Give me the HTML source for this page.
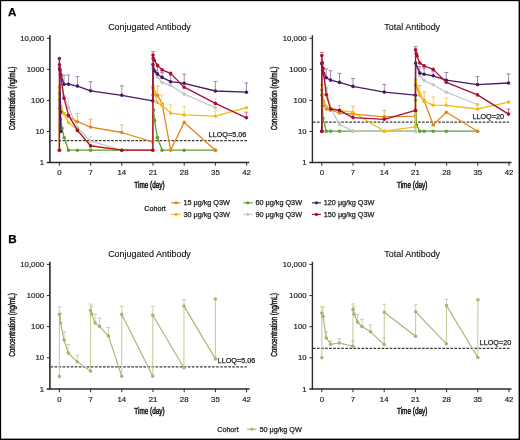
<!DOCTYPE html>
<html><head><meta charset="utf-8"><style>
html,body{margin:0;padding:0;background:#fff;}
#c{position:relative;width:520px;height:440px;overflow:hidden;background:#fff;}
svg{position:absolute;left:0;top:0;font-family:"Liberation Sans", sans-serif;will-change:transform;}
</style></head><body><div id="c">
<svg width="520" height="440" viewBox="0 0 520 440">
<rect x="0" y="0" width="520" height="440" fill="#fff"/>
<line x1="49.90" y1="35.20" x2="49.90" y2="163.10" stroke="#2a2a2a" stroke-width="1.6" />
<line x1="46.70" y1="162.50" x2="249.20" y2="162.50" stroke="#2a2a2a" stroke-width="1.3" />
<text x="44.10" y="165.00" font-size="7.8" text-anchor="end" fill="#222" stroke="#222" stroke-width="0.18" font-weight="normal" >1</text>
<line x1="46.90" y1="131.45" x2="49.90" y2="131.45" stroke="#2a2a2a" stroke-width="1.0" />
<text x="44.10" y="133.95" font-size="7.8" text-anchor="end" fill="#222" stroke="#222" stroke-width="0.18" font-weight="normal" >10</text>
<line x1="46.90" y1="100.40" x2="49.90" y2="100.40" stroke="#2a2a2a" stroke-width="1.0" />
<text x="44.10" y="102.90" font-size="7.8" text-anchor="end" fill="#222" stroke="#222" stroke-width="0.18" font-weight="normal" >100</text>
<line x1="46.90" y1="69.35" x2="49.90" y2="69.35" stroke="#2a2a2a" stroke-width="1.0" />
<text x="44.10" y="71.85" font-size="7.8" text-anchor="end" fill="#222" stroke="#222" stroke-width="0.18" font-weight="normal" >1000</text>
<line x1="46.90" y1="38.30" x2="49.90" y2="38.30" stroke="#2a2a2a" stroke-width="1.0" />
<text x="44.10" y="40.80" font-size="7.8" text-anchor="end" fill="#222" stroke="#222" stroke-width="0.18" font-weight="normal" >10,000</text>
<line x1="59.40" y1="162.50" x2="59.40" y2="165.70" stroke="#2a2a2a" stroke-width="1.0" />
<text x="59.40" y="175.20" font-size="7.8" text-anchor="middle" fill="#222" stroke="#222" stroke-width="0.18" font-weight="normal" >0</text>
<line x1="90.60" y1="162.50" x2="90.60" y2="165.70" stroke="#2a2a2a" stroke-width="1.0" />
<text x="90.60" y="175.20" font-size="7.8" text-anchor="middle" fill="#222" stroke="#222" stroke-width="0.18" font-weight="normal" >7</text>
<line x1="121.80" y1="162.50" x2="121.80" y2="165.70" stroke="#2a2a2a" stroke-width="1.0" />
<text x="121.80" y="175.20" font-size="7.8" text-anchor="middle" fill="#222" stroke="#222" stroke-width="0.18" font-weight="normal" >14</text>
<line x1="153.00" y1="162.50" x2="153.00" y2="165.70" stroke="#2a2a2a" stroke-width="1.0" />
<text x="153.00" y="175.20" font-size="7.8" text-anchor="middle" fill="#222" stroke="#222" stroke-width="0.18" font-weight="normal" >21</text>
<line x1="184.20" y1="162.50" x2="184.20" y2="165.70" stroke="#2a2a2a" stroke-width="1.0" />
<text x="184.20" y="175.20" font-size="7.8" text-anchor="middle" fill="#222" stroke="#222" stroke-width="0.18" font-weight="normal" >28</text>
<line x1="215.40" y1="162.50" x2="215.40" y2="165.70" stroke="#2a2a2a" stroke-width="1.0" />
<text x="215.40" y="175.20" font-size="7.8" text-anchor="middle" fill="#222" stroke="#222" stroke-width="0.18" font-weight="normal" >35</text>
<line x1="246.59" y1="162.50" x2="246.59" y2="165.70" stroke="#2a2a2a" stroke-width="1.0" />
<text x="246.59" y="175.20" font-size="7.8" text-anchor="middle" fill="#222" stroke="#222" stroke-width="0.18" font-weight="normal" >42</text>
<text transform="translate(149.50,30.20) scale(0.965,1)" font-size="9.3" text-anchor="middle" fill="#111" stroke="#111" stroke-width="0.12" font-weight="normal" >Conjugated Antibody</text>
<text transform="translate(149.50,187.70) scale(0.72,1)" font-size="8.9" text-anchor="middle" fill="#222" stroke="#222" stroke-width="0.55">Time (day)</text>
<text transform="translate(14.70,98.50) rotate(-90) scale(0.72,1)" font-size="8.9" text-anchor="middle" fill="#222" stroke="#222" stroke-width="0.5">Concentration (ng/mL)</text>
<line x1="312.40" y1="35.20" x2="312.40" y2="163.10" stroke="#2a2a2a" stroke-width="1.4" />
<line x1="309.20" y1="162.50" x2="511.50" y2="162.50" stroke="#2a2a2a" stroke-width="1.3" />
<text x="306.60" y="165.00" font-size="7.8" text-anchor="end" fill="#222" stroke="#222" stroke-width="0.18" font-weight="normal" >1</text>
<line x1="309.40" y1="131.45" x2="312.40" y2="131.45" stroke="#2a2a2a" stroke-width="1.0" />
<text x="306.60" y="133.95" font-size="7.8" text-anchor="end" fill="#222" stroke="#222" stroke-width="0.18" font-weight="normal" >10</text>
<line x1="309.40" y1="100.40" x2="312.40" y2="100.40" stroke="#2a2a2a" stroke-width="1.0" />
<text x="306.60" y="102.90" font-size="7.8" text-anchor="end" fill="#222" stroke="#222" stroke-width="0.18" font-weight="normal" >100</text>
<line x1="309.40" y1="69.35" x2="312.40" y2="69.35" stroke="#2a2a2a" stroke-width="1.0" />
<text x="306.60" y="71.85" font-size="7.8" text-anchor="end" fill="#222" stroke="#222" stroke-width="0.18" font-weight="normal" >1000</text>
<line x1="309.40" y1="38.30" x2="312.40" y2="38.30" stroke="#2a2a2a" stroke-width="1.0" />
<text x="306.60" y="40.80" font-size="7.8" text-anchor="end" fill="#222" stroke="#222" stroke-width="0.18" font-weight="normal" >10,000</text>
<line x1="321.80" y1="162.50" x2="321.80" y2="165.70" stroke="#2a2a2a" stroke-width="1.0" />
<text x="321.80" y="175.20" font-size="7.8" text-anchor="middle" fill="#222" stroke="#222" stroke-width="0.18" font-weight="normal" >0</text>
<line x1="353.00" y1="162.50" x2="353.00" y2="165.70" stroke="#2a2a2a" stroke-width="1.0" />
<text x="353.00" y="175.20" font-size="7.8" text-anchor="middle" fill="#222" stroke="#222" stroke-width="0.18" font-weight="normal" >7</text>
<line x1="384.20" y1="162.50" x2="384.20" y2="165.70" stroke="#2a2a2a" stroke-width="1.0" />
<text x="384.20" y="175.20" font-size="7.8" text-anchor="middle" fill="#222" stroke="#222" stroke-width="0.18" font-weight="normal" >14</text>
<line x1="415.40" y1="162.50" x2="415.40" y2="165.70" stroke="#2a2a2a" stroke-width="1.0" />
<text x="415.40" y="175.20" font-size="7.8" text-anchor="middle" fill="#222" stroke="#222" stroke-width="0.18" font-weight="normal" >21</text>
<line x1="446.60" y1="162.50" x2="446.60" y2="165.70" stroke="#2a2a2a" stroke-width="1.0" />
<text x="446.60" y="175.20" font-size="7.8" text-anchor="middle" fill="#222" stroke="#222" stroke-width="0.18" font-weight="normal" >28</text>
<line x1="477.80" y1="162.50" x2="477.80" y2="165.70" stroke="#2a2a2a" stroke-width="1.0" />
<text x="477.80" y="175.20" font-size="7.8" text-anchor="middle" fill="#222" stroke="#222" stroke-width="0.18" font-weight="normal" >35</text>
<line x1="508.99" y1="162.50" x2="508.99" y2="165.70" stroke="#2a2a2a" stroke-width="1.0" />
<text x="508.99" y="175.20" font-size="7.8" text-anchor="middle" fill="#222" stroke="#222" stroke-width="0.18" font-weight="normal" >42</text>
<text transform="translate(412.20,30.20) scale(0.965,1)" font-size="9.3" text-anchor="middle" fill="#111" stroke="#111" stroke-width="0.12" font-weight="normal" >Total Antibody</text>
<text transform="translate(412.20,187.70) scale(0.72,1)" font-size="8.9" text-anchor="middle" fill="#222" stroke="#222" stroke-width="0.55">Time (day)</text>
<text transform="translate(277.20,98.50) rotate(-90) scale(0.72,1)" font-size="8.9" text-anchor="middle" fill="#222" stroke="#222" stroke-width="0.5">Concentration (ng/mL)</text>
<line x1="49.90" y1="261.80" x2="49.90" y2="389.60" stroke="#2a2a2a" stroke-width="1.6" />
<line x1="46.70" y1="389.00" x2="249.50" y2="389.00" stroke="#2a2a2a" stroke-width="1.3" />
<text x="44.10" y="391.50" font-size="7.8" text-anchor="end" fill="#222" stroke="#222" stroke-width="0.18" font-weight="normal" >1</text>
<line x1="46.90" y1="357.85" x2="49.90" y2="357.85" stroke="#2a2a2a" stroke-width="1.0" />
<text x="44.10" y="360.35" font-size="7.8" text-anchor="end" fill="#222" stroke="#222" stroke-width="0.18" font-weight="normal" >10</text>
<line x1="46.90" y1="326.70" x2="49.90" y2="326.70" stroke="#2a2a2a" stroke-width="1.0" />
<text x="44.10" y="329.20" font-size="7.8" text-anchor="end" fill="#222" stroke="#222" stroke-width="0.18" font-weight="normal" >100</text>
<line x1="46.90" y1="295.55" x2="49.90" y2="295.55" stroke="#2a2a2a" stroke-width="1.0" />
<text x="44.10" y="298.05" font-size="7.8" text-anchor="end" fill="#222" stroke="#222" stroke-width="0.18" font-weight="normal" >1000</text>
<line x1="46.90" y1="264.40" x2="49.90" y2="264.40" stroke="#2a2a2a" stroke-width="1.0" />
<text x="44.10" y="266.90" font-size="7.8" text-anchor="end" fill="#222" stroke="#222" stroke-width="0.18" font-weight="normal" >10,000</text>
<line x1="59.40" y1="389.00" x2="59.40" y2="392.20" stroke="#2a2a2a" stroke-width="1.0" />
<text x="59.40" y="401.70" font-size="7.8" text-anchor="middle" fill="#222" stroke="#222" stroke-width="0.18" font-weight="normal" >0</text>
<line x1="90.60" y1="389.00" x2="90.60" y2="392.20" stroke="#2a2a2a" stroke-width="1.0" />
<text x="90.60" y="401.70" font-size="7.8" text-anchor="middle" fill="#222" stroke="#222" stroke-width="0.18" font-weight="normal" >7</text>
<line x1="121.80" y1="389.00" x2="121.80" y2="392.20" stroke="#2a2a2a" stroke-width="1.0" />
<text x="121.80" y="401.70" font-size="7.8" text-anchor="middle" fill="#222" stroke="#222" stroke-width="0.18" font-weight="normal" >14</text>
<line x1="153.00" y1="389.00" x2="153.00" y2="392.20" stroke="#2a2a2a" stroke-width="1.0" />
<text x="153.00" y="401.70" font-size="7.8" text-anchor="middle" fill="#222" stroke="#222" stroke-width="0.18" font-weight="normal" >21</text>
<line x1="184.20" y1="389.00" x2="184.20" y2="392.20" stroke="#2a2a2a" stroke-width="1.0" />
<text x="184.20" y="401.70" font-size="7.8" text-anchor="middle" fill="#222" stroke="#222" stroke-width="0.18" font-weight="normal" >28</text>
<line x1="215.40" y1="389.00" x2="215.40" y2="392.20" stroke="#2a2a2a" stroke-width="1.0" />
<text x="215.40" y="401.70" font-size="7.8" text-anchor="middle" fill="#222" stroke="#222" stroke-width="0.18" font-weight="normal" >35</text>
<line x1="246.59" y1="389.00" x2="246.59" y2="392.20" stroke="#2a2a2a" stroke-width="1.0" />
<text x="246.59" y="401.70" font-size="7.8" text-anchor="middle" fill="#222" stroke="#222" stroke-width="0.18" font-weight="normal" >42</text>
<text transform="translate(149.50,256.70) scale(0.965,1)" font-size="9.3" text-anchor="middle" fill="#111" stroke="#111" stroke-width="0.12" font-weight="normal" >Conjugated Antibody</text>
<text transform="translate(149.50,414.20) scale(0.72,1)" font-size="8.9" text-anchor="middle" fill="#222" stroke="#222" stroke-width="0.55">Time (day)</text>
<text transform="translate(14.70,325.00) rotate(-90) scale(0.72,1)" font-size="8.9" text-anchor="middle" fill="#222" stroke="#222" stroke-width="0.5">Concentration (ng/mL)</text>
<line x1="312.40" y1="261.80" x2="312.40" y2="389.60" stroke="#2a2a2a" stroke-width="1.4" />
<line x1="309.20" y1="389.00" x2="511.50" y2="389.00" stroke="#2a2a2a" stroke-width="1.3" />
<text x="306.60" y="391.50" font-size="7.8" text-anchor="end" fill="#222" stroke="#222" stroke-width="0.18" font-weight="normal" >1</text>
<line x1="309.40" y1="357.85" x2="312.40" y2="357.85" stroke="#2a2a2a" stroke-width="1.0" />
<text x="306.60" y="360.35" font-size="7.8" text-anchor="end" fill="#222" stroke="#222" stroke-width="0.18" font-weight="normal" >10</text>
<line x1="309.40" y1="326.70" x2="312.40" y2="326.70" stroke="#2a2a2a" stroke-width="1.0" />
<text x="306.60" y="329.20" font-size="7.8" text-anchor="end" fill="#222" stroke="#222" stroke-width="0.18" font-weight="normal" >100</text>
<line x1="309.40" y1="295.55" x2="312.40" y2="295.55" stroke="#2a2a2a" stroke-width="1.0" />
<text x="306.60" y="298.05" font-size="7.8" text-anchor="end" fill="#222" stroke="#222" stroke-width="0.18" font-weight="normal" >1000</text>
<line x1="309.40" y1="264.40" x2="312.40" y2="264.40" stroke="#2a2a2a" stroke-width="1.0" />
<text x="306.60" y="266.90" font-size="7.8" text-anchor="end" fill="#222" stroke="#222" stroke-width="0.18" font-weight="normal" >10,000</text>
<line x1="321.80" y1="389.00" x2="321.80" y2="392.20" stroke="#2a2a2a" stroke-width="1.0" />
<text x="321.80" y="401.70" font-size="7.8" text-anchor="middle" fill="#222" stroke="#222" stroke-width="0.18" font-weight="normal" >0</text>
<line x1="353.00" y1="389.00" x2="353.00" y2="392.20" stroke="#2a2a2a" stroke-width="1.0" />
<text x="353.00" y="401.70" font-size="7.8" text-anchor="middle" fill="#222" stroke="#222" stroke-width="0.18" font-weight="normal" >7</text>
<line x1="384.20" y1="389.00" x2="384.20" y2="392.20" stroke="#2a2a2a" stroke-width="1.0" />
<text x="384.20" y="401.70" font-size="7.8" text-anchor="middle" fill="#222" stroke="#222" stroke-width="0.18" font-weight="normal" >14</text>
<line x1="415.40" y1="389.00" x2="415.40" y2="392.20" stroke="#2a2a2a" stroke-width="1.0" />
<text x="415.40" y="401.70" font-size="7.8" text-anchor="middle" fill="#222" stroke="#222" stroke-width="0.18" font-weight="normal" >21</text>
<line x1="446.60" y1="389.00" x2="446.60" y2="392.20" stroke="#2a2a2a" stroke-width="1.0" />
<text x="446.60" y="401.70" font-size="7.8" text-anchor="middle" fill="#222" stroke="#222" stroke-width="0.18" font-weight="normal" >28</text>
<line x1="477.80" y1="389.00" x2="477.80" y2="392.20" stroke="#2a2a2a" stroke-width="1.0" />
<text x="477.80" y="401.70" font-size="7.8" text-anchor="middle" fill="#222" stroke="#222" stroke-width="0.18" font-weight="normal" >35</text>
<line x1="508.99" y1="389.00" x2="508.99" y2="392.20" stroke="#2a2a2a" stroke-width="1.0" />
<text x="508.99" y="401.70" font-size="7.8" text-anchor="middle" fill="#222" stroke="#222" stroke-width="0.18" font-weight="normal" >42</text>
<text transform="translate(412.20,256.70) scale(0.965,1)" font-size="9.3" text-anchor="middle" fill="#111" stroke="#111" stroke-width="0.12" font-weight="normal" >Total Antibody</text>
<text transform="translate(412.20,414.20) scale(0.72,1)" font-size="8.9" text-anchor="middle" fill="#222" stroke="#222" stroke-width="0.55">Time (day)</text>
<text transform="translate(277.20,325.00) rotate(-90) scale(0.72,1)" font-size="8.9" text-anchor="middle" fill="#222" stroke="#222" stroke-width="0.5">Concentration (ng/mL)</text>
<line x1="50.50" y1="140.60" x2="247.20" y2="140.60" stroke="#383838" stroke-width="1.25" stroke-dasharray="2.6 1.44"/>
<line x1="313.00" y1="122.00" x2="509.00" y2="122.00" stroke="#383838" stroke-width="1.25" stroke-dasharray="2.6 1.44"/>
<line x1="50.50" y1="366.90" x2="246.60" y2="366.90" stroke="#383838" stroke-width="1.25" stroke-dasharray="2.6 1.44"/>
<line x1="313.00" y1="348.40" x2="510.00" y2="348.40" stroke="#383838" stroke-width="1.25" stroke-dasharray="2.6 1.44"/>
<text x="208.60" y="137.30" font-size="7.25" text-anchor="start" fill="#222" stroke="#222" stroke-width="0.25" font-weight="normal" >LLOQ=5.06</text>
<text x="472.40" y="119.30" font-size="7.25" text-anchor="start" fill="#222" stroke="#222" stroke-width="0.25" font-weight="normal" >LLOQ=20</text>
<text x="217.60" y="363.30" font-size="7.25" text-anchor="start" fill="#222" stroke="#222" stroke-width="0.25" font-weight="normal" >LLOQ=5.06</text>
<text x="479.60" y="344.90" font-size="7.25" text-anchor="start" fill="#222" stroke="#222" stroke-width="0.25" font-weight="normal" >LLOQ=20</text>
<text x="8.00" y="16.40" font-size="11.6" text-anchor="start" fill="#000" stroke="#000" stroke-width="0.25" font-weight="bold" >A</text>
<text x="8.20" y="242.70" font-size="11.6" text-anchor="start" fill="#000" stroke="#000" stroke-width="0.25" font-weight="bold" >B</text>
<polyline points="59.40,150.20 59.40,93.00 59.60,108.30 60.50,119.40 62.00,128.20 64.20,137.80 68.50,150.20 77.40,150.20 90.60,150.20 121.80,150.20 152.80,150.20 153.00,95.00 153.50,110.10 154.50,120.40 157.40,137.60 162.10,150.20 184.20,150.20 215.40,150.20" fill="none" stroke="#5DA232" stroke-width="1.3" stroke-linejoin="round"/>
<circle cx="59.40" cy="150.20" r="1.8" fill="#5DA232"/>
<circle cx="59.40" cy="93.00" r="1.8" fill="#5DA232"/>
<circle cx="59.60" cy="108.30" r="1.8" fill="#5DA232"/>
<circle cx="60.50" cy="119.40" r="1.8" fill="#5DA232"/>
<circle cx="62.00" cy="128.20" r="1.8" fill="#5DA232"/>
<circle cx="64.20" cy="137.80" r="1.8" fill="#5DA232"/>
<circle cx="68.50" cy="150.20" r="1.8" fill="#5DA232"/>
<circle cx="77.40" cy="150.20" r="1.8" fill="#5DA232"/>
<circle cx="90.60" cy="150.20" r="1.8" fill="#5DA232"/>
<circle cx="121.80" cy="150.20" r="1.8" fill="#5DA232"/>
<circle cx="152.80" cy="150.20" r="1.8" fill="#5DA232"/>
<circle cx="153.00" cy="95.00" r="1.8" fill="#5DA232"/>
<circle cx="153.50" cy="110.10" r="1.8" fill="#5DA232"/>
<circle cx="154.50" cy="120.40" r="1.8" fill="#5DA232"/>
<circle cx="157.40" cy="137.60" r="1.8" fill="#5DA232"/>
<circle cx="162.10" cy="150.20" r="1.8" fill="#5DA232"/>
<circle cx="184.20" cy="150.20" r="1.8" fill="#5DA232"/>
<circle cx="215.40" cy="150.20" r="1.8" fill="#5DA232"/>
<line x1="68.50" y1="107.50" x2="68.50" y2="98.70" stroke="#DADADC" stroke-width="0.9" />
<line x1="66.60" y1="98.70" x2="70.40" y2="98.70" stroke="#DADADC" stroke-width="1.0" />
<line x1="90.60" y1="141.20" x2="90.60" y2="136.80" stroke="#DADADC" stroke-width="0.9" />
<line x1="88.70" y1="136.80" x2="92.50" y2="136.80" stroke="#DADADC" stroke-width="1.0" />
<line x1="215.40" y1="107.70" x2="215.40" y2="98.90" stroke="#DADADC" stroke-width="0.9" />
<line x1="213.50" y1="98.90" x2="217.30" y2="98.90" stroke="#DADADC" stroke-width="1.0" />
<polyline points="59.40,150.20 59.40,66.00 60.00,75.00 61.00,85.00 64.00,96.00 68.50,107.50 77.40,127.50 90.60,141.20 121.80,150.20 152.80,150.20 153.00,68.00 155.00,72.00 157.40,76.90 162.10,82.60 170.60,85.30 184.20,94.10 215.40,107.70" fill="none" stroke="#C6C6CA" stroke-width="1.3" stroke-linejoin="round"/>
<circle cx="59.40" cy="150.20" r="1.8" fill="#C6C6CA"/>
<circle cx="59.40" cy="66.00" r="1.8" fill="#C6C6CA"/>
<circle cx="60.00" cy="75.00" r="1.8" fill="#C6C6CA"/>
<circle cx="61.00" cy="85.00" r="1.8" fill="#C6C6CA"/>
<circle cx="64.00" cy="96.00" r="1.8" fill="#C6C6CA"/>
<circle cx="68.50" cy="107.50" r="1.8" fill="#C6C6CA"/>
<circle cx="77.40" cy="127.50" r="1.8" fill="#C6C6CA"/>
<circle cx="90.60" cy="141.20" r="1.8" fill="#C6C6CA"/>
<circle cx="121.80" cy="150.20" r="1.8" fill="#C6C6CA"/>
<circle cx="152.80" cy="150.20" r="1.8" fill="#C6C6CA"/>
<circle cx="153.00" cy="68.00" r="1.8" fill="#C6C6CA"/>
<circle cx="155.00" cy="72.00" r="1.8" fill="#C6C6CA"/>
<circle cx="157.40" cy="76.90" r="1.8" fill="#C6C6CA"/>
<circle cx="162.10" cy="82.60" r="1.8" fill="#C6C6CA"/>
<circle cx="170.60" cy="85.30" r="1.8" fill="#C6C6CA"/>
<circle cx="184.20" cy="94.10" r="1.8" fill="#C6C6CA"/>
<circle cx="215.40" cy="107.70" r="1.8" fill="#C6C6CA"/>
<line x1="77.40" y1="121.70" x2="77.40" y2="113.60" stroke="#EDB06A" stroke-width="0.9" />
<line x1="75.50" y1="113.60" x2="79.30" y2="113.60" stroke="#EDB06A" stroke-width="1.0" />
<line x1="90.60" y1="127.10" x2="90.60" y2="119.20" stroke="#EDB06A" stroke-width="0.9" />
<line x1="88.70" y1="119.20" x2="92.50" y2="119.20" stroke="#EDB06A" stroke-width="1.0" />
<line x1="121.80" y1="132.50" x2="121.80" y2="124.90" stroke="#EDB06A" stroke-width="0.9" />
<line x1="119.90" y1="124.90" x2="123.70" y2="124.90" stroke="#EDB06A" stroke-width="1.0" />
<line x1="157.70" y1="95.50" x2="157.70" y2="86.10" stroke="#EDB06A" stroke-width="0.9" />
<line x1="155.80" y1="86.10" x2="159.60" y2="86.10" stroke="#EDB06A" stroke-width="1.0" />
<polyline points="59.40,150.20 59.40,100.00 60.20,106.00 64.00,113.50 68.50,116.50 77.40,121.70 90.60,127.10 121.80,132.50 152.80,142.10 153.00,88.00 154.80,93.70 157.70,95.50 162.20,104.00 170.60,150.20 184.20,122.40 215.40,150.20" fill="none" stroke="#E2861C" stroke-width="1.3" stroke-linejoin="round"/>
<circle cx="59.40" cy="150.20" r="1.8" fill="#E2861C"/>
<circle cx="59.40" cy="100.00" r="1.8" fill="#E2861C"/>
<circle cx="60.20" cy="106.00" r="1.8" fill="#E2861C"/>
<circle cx="64.00" cy="113.50" r="1.8" fill="#E2861C"/>
<circle cx="68.50" cy="116.50" r="1.8" fill="#E2861C"/>
<circle cx="77.40" cy="121.70" r="1.8" fill="#E2861C"/>
<circle cx="90.60" cy="127.10" r="1.8" fill="#E2861C"/>
<circle cx="121.80" cy="132.50" r="1.8" fill="#E2861C"/>
<circle cx="152.80" cy="142.10" r="1.8" fill="#E2861C"/>
<circle cx="153.00" cy="88.00" r="1.8" fill="#E2861C"/>
<circle cx="154.80" cy="93.70" r="1.8" fill="#E2861C"/>
<circle cx="157.70" cy="95.50" r="1.8" fill="#E2861C"/>
<circle cx="162.20" cy="104.00" r="1.8" fill="#E2861C"/>
<circle cx="170.60" cy="150.20" r="1.8" fill="#E2861C"/>
<circle cx="184.20" cy="122.40" r="1.8" fill="#E2861C"/>
<circle cx="215.40" cy="150.20" r="1.8" fill="#E2861C"/>
<line x1="161.60" y1="105.10" x2="161.60" y2="94.90" stroke="#F3D264" stroke-width="0.9" />
<line x1="159.70" y1="94.90" x2="163.50" y2="94.90" stroke="#F3D264" stroke-width="1.0" />
<line x1="170.60" y1="113.10" x2="170.60" y2="104.80" stroke="#F3D264" stroke-width="0.9" />
<line x1="168.70" y1="104.80" x2="172.50" y2="104.80" stroke="#F3D264" stroke-width="1.0" />
<line x1="184.20" y1="114.90" x2="184.20" y2="106.40" stroke="#F3D264" stroke-width="0.9" />
<line x1="182.30" y1="106.40" x2="186.10" y2="106.40" stroke="#F3D264" stroke-width="1.0" />
<line x1="215.40" y1="116.20" x2="215.40" y2="111.00" stroke="#F3D264" stroke-width="0.9" />
<line x1="213.50" y1="111.00" x2="217.30" y2="111.00" stroke="#F3D264" stroke-width="1.0" />
<polyline points="59.40,150.20 59.40,87.50 59.60,94.00 61.20,107.50 64.00,113.80 68.50,122.60 77.40,129.80 90.60,145.60 121.80,150.20 152.80,150.20 153.00,86.00 154.30,91.50 157.10,102.30 161.60,105.10 170.60,113.10 184.20,114.90 215.40,116.20 246.40,107.70" fill="none" stroke="#EFBD17" stroke-width="1.3" stroke-linejoin="round"/>
<circle cx="59.40" cy="150.20" r="1.8" fill="#EFBD17"/>
<circle cx="59.40" cy="87.50" r="1.8" fill="#EFBD17"/>
<circle cx="59.60" cy="94.00" r="1.8" fill="#EFBD17"/>
<circle cx="61.20" cy="107.50" r="1.8" fill="#EFBD17"/>
<circle cx="64.00" cy="113.80" r="1.8" fill="#EFBD17"/>
<circle cx="68.50" cy="122.60" r="1.8" fill="#EFBD17"/>
<circle cx="77.40" cy="129.80" r="1.8" fill="#EFBD17"/>
<circle cx="90.60" cy="145.60" r="1.8" fill="#EFBD17"/>
<circle cx="121.80" cy="150.20" r="1.8" fill="#EFBD17"/>
<circle cx="152.80" cy="150.20" r="1.8" fill="#EFBD17"/>
<circle cx="153.00" cy="86.00" r="1.8" fill="#EFBD17"/>
<circle cx="154.30" cy="91.50" r="1.8" fill="#EFBD17"/>
<circle cx="157.10" cy="102.30" r="1.8" fill="#EFBD17"/>
<circle cx="161.60" cy="105.10" r="1.8" fill="#EFBD17"/>
<circle cx="170.60" cy="113.10" r="1.8" fill="#EFBD17"/>
<circle cx="184.20" cy="114.90" r="1.8" fill="#EFBD17"/>
<circle cx="215.40" cy="116.20" r="1.8" fill="#EFBD17"/>
<circle cx="246.40" cy="107.70" r="1.8" fill="#EFBD17"/>
<line x1="64.00" y1="84.20" x2="64.00" y2="75.30" stroke="#9A80AC" stroke-width="0.9" />
<line x1="62.10" y1="75.30" x2="65.90" y2="75.30" stroke="#9A80AC" stroke-width="1.0" />
<line x1="68.50" y1="84.20" x2="68.50" y2="75.00" stroke="#9A80AC" stroke-width="0.9" />
<line x1="66.60" y1="75.00" x2="70.40" y2="75.00" stroke="#9A80AC" stroke-width="1.0" />
<line x1="77.40" y1="86.10" x2="77.40" y2="76.60" stroke="#9A80AC" stroke-width="0.9" />
<line x1="75.50" y1="76.60" x2="79.30" y2="76.60" stroke="#9A80AC" stroke-width="1.0" />
<line x1="90.60" y1="90.80" x2="90.60" y2="81.70" stroke="#9A80AC" stroke-width="0.9" />
<line x1="88.70" y1="81.70" x2="92.50" y2="81.70" stroke="#9A80AC" stroke-width="1.0" />
<line x1="121.80" y1="95.30" x2="121.80" y2="85.80" stroke="#9A80AC" stroke-width="0.9" />
<line x1="119.90" y1="85.80" x2="123.70" y2="85.80" stroke="#9A80AC" stroke-width="1.0" />
<line x1="157.40" y1="73.90" x2="157.40" y2="67.00" stroke="#9A80AC" stroke-width="0.9" />
<line x1="155.50" y1="67.00" x2="159.30" y2="67.00" stroke="#9A80AC" stroke-width="1.0" />
<line x1="162.10" y1="77.40" x2="162.10" y2="72.60" stroke="#9A80AC" stroke-width="0.9" />
<line x1="160.20" y1="72.60" x2="164.00" y2="72.60" stroke="#9A80AC" stroke-width="1.0" />
<line x1="170.60" y1="81.70" x2="170.60" y2="75.30" stroke="#9A80AC" stroke-width="0.9" />
<line x1="168.70" y1="75.30" x2="172.50" y2="75.30" stroke="#9A80AC" stroke-width="1.0" />
<line x1="184.20" y1="83.30" x2="184.20" y2="74.20" stroke="#9A80AC" stroke-width="0.9" />
<line x1="182.30" y1="74.20" x2="186.10" y2="74.20" stroke="#9A80AC" stroke-width="1.0" />
<line x1="215.40" y1="91.00" x2="215.40" y2="81.40" stroke="#9A80AC" stroke-width="0.9" />
<line x1="213.50" y1="81.40" x2="217.30" y2="81.40" stroke="#9A80AC" stroke-width="1.0" />
<line x1="246.40" y1="92.20" x2="246.40" y2="83.00" stroke="#9A80AC" stroke-width="0.9" />
<line x1="244.50" y1="83.00" x2="248.30" y2="83.00" stroke="#9A80AC" stroke-width="1.0" />
<polyline points="60.80,131.50 60.60,112.00 59.60,68.80 60.60,74.00 64.00,84.20 68.50,84.20 77.40,86.10 90.60,90.80 121.80,95.30 152.80,100.90 153.00,64.60 154.70,71.00 157.40,73.90 162.10,77.40 170.60,81.70 184.20,83.30 215.40,91.00 246.40,92.20" fill="none" stroke="#4A1966" stroke-width="1.3" stroke-linejoin="round"/>
<circle cx="60.80" cy="131.50" r="1.8" fill="#4A1966"/>
<circle cx="60.60" cy="112.00" r="1.8" fill="#4A1966"/>
<circle cx="59.60" cy="68.80" r="1.8" fill="#4A1966"/>
<circle cx="60.60" cy="74.00" r="1.8" fill="#4A1966"/>
<circle cx="64.00" cy="84.20" r="1.8" fill="#4A1966"/>
<circle cx="68.50" cy="84.20" r="1.8" fill="#4A1966"/>
<circle cx="77.40" cy="86.10" r="1.8" fill="#4A1966"/>
<circle cx="90.60" cy="90.80" r="1.8" fill="#4A1966"/>
<circle cx="121.80" cy="95.30" r="1.8" fill="#4A1966"/>
<circle cx="152.80" cy="100.90" r="1.8" fill="#4A1966"/>
<circle cx="153.00" cy="64.60" r="1.8" fill="#4A1966"/>
<circle cx="154.70" cy="71.00" r="1.8" fill="#4A1966"/>
<circle cx="157.40" cy="73.90" r="1.8" fill="#4A1966"/>
<circle cx="162.10" cy="77.40" r="1.8" fill="#4A1966"/>
<circle cx="170.60" cy="81.70" r="1.8" fill="#4A1966"/>
<circle cx="184.20" cy="83.30" r="1.8" fill="#4A1966"/>
<circle cx="215.40" cy="91.00" r="1.8" fill="#4A1966"/>
<circle cx="246.40" cy="92.20" r="1.8" fill="#4A1966"/>
<line x1="153.00" y1="55.10" x2="153.00" y2="51.60" stroke="#CE6A7E" stroke-width="0.9" />
<line x1="151.10" y1="51.60" x2="154.90" y2="51.60" stroke="#CE6A7E" stroke-width="1.0" />
<line x1="246.40" y1="117.80" x2="246.40" y2="112.20" stroke="#CE6A7E" stroke-width="0.9" />
<line x1="244.50" y1="112.20" x2="248.30" y2="112.20" stroke="#CE6A7E" stroke-width="1.0" />
<polyline points="59.40,150.20 59.40,58.60 59.50,64.80 60.20,70.50 60.80,75.60 64.00,98.20 68.50,115.20 77.40,130.40 90.60,145.90 121.80,150.20 152.80,150.20 153.00,55.10 153.20,58.20 154.20,60.30 157.60,65.40 162.10,69.90 170.60,73.40 184.20,87.20 215.40,103.40 246.40,117.80" fill="none" stroke="#AC0E30" stroke-width="1.3" stroke-linejoin="round"/>
<circle cx="59.40" cy="150.20" r="1.8" fill="#AC0E30"/>
<circle cx="59.40" cy="58.60" r="1.8" fill="#AC0E30"/>
<circle cx="59.50" cy="64.80" r="1.8" fill="#AC0E30"/>
<circle cx="60.20" cy="70.50" r="1.8" fill="#AC0E30"/>
<circle cx="60.80" cy="75.60" r="1.8" fill="#AC0E30"/>
<circle cx="64.00" cy="98.20" r="1.8" fill="#AC0E30"/>
<circle cx="68.50" cy="115.20" r="1.8" fill="#AC0E30"/>
<circle cx="77.40" cy="130.40" r="1.8" fill="#AC0E30"/>
<circle cx="90.60" cy="145.90" r="1.8" fill="#AC0E30"/>
<circle cx="121.80" cy="150.20" r="1.8" fill="#AC0E30"/>
<circle cx="152.80" cy="150.20" r="1.8" fill="#AC0E30"/>
<circle cx="153.00" cy="55.10" r="1.8" fill="#AC0E30"/>
<circle cx="153.20" cy="58.20" r="1.8" fill="#AC0E30"/>
<circle cx="154.20" cy="60.30" r="1.8" fill="#AC0E30"/>
<circle cx="157.60" cy="65.40" r="1.8" fill="#AC0E30"/>
<circle cx="162.10" cy="69.90" r="1.8" fill="#AC0E30"/>
<circle cx="170.60" cy="73.40" r="1.8" fill="#AC0E30"/>
<circle cx="184.20" cy="87.20" r="1.8" fill="#AC0E30"/>
<circle cx="215.40" cy="103.40" r="1.8" fill="#AC0E30"/>
<circle cx="246.40" cy="117.80" r="1.8" fill="#AC0E30"/>
<polyline points="321.80,131.20 321.80,95.00 322.50,106.10 323.00,118.50 326.30,131.20 330.60,131.20 339.50,131.20 353.00,131.20 384.30,131.20 415.40,131.20 415.60,100.00 415.80,110.90 416.50,124.90 419.80,131.20 424.10,131.20 433.20,131.20 446.30,131.20 477.50,131.20" fill="none" stroke="#5DA232" stroke-width="1.3" stroke-linejoin="round"/>
<circle cx="321.80" cy="131.20" r="1.8" fill="#5DA232"/>
<circle cx="321.80" cy="95.00" r="1.8" fill="#5DA232"/>
<circle cx="322.50" cy="106.10" r="1.8" fill="#5DA232"/>
<circle cx="323.00" cy="118.50" r="1.8" fill="#5DA232"/>
<circle cx="326.30" cy="131.20" r="1.8" fill="#5DA232"/>
<circle cx="330.60" cy="131.20" r="1.8" fill="#5DA232"/>
<circle cx="339.50" cy="131.20" r="1.8" fill="#5DA232"/>
<circle cx="353.00" cy="131.20" r="1.8" fill="#5DA232"/>
<circle cx="384.30" cy="131.20" r="1.8" fill="#5DA232"/>
<circle cx="415.40" cy="131.20" r="1.8" fill="#5DA232"/>
<circle cx="415.60" cy="100.00" r="1.8" fill="#5DA232"/>
<circle cx="415.80" cy="110.90" r="1.8" fill="#5DA232"/>
<circle cx="416.50" cy="124.90" r="1.8" fill="#5DA232"/>
<circle cx="419.80" cy="131.20" r="1.8" fill="#5DA232"/>
<circle cx="424.10" cy="131.20" r="1.8" fill="#5DA232"/>
<circle cx="433.20" cy="131.20" r="1.8" fill="#5DA232"/>
<circle cx="446.30" cy="131.20" r="1.8" fill="#5DA232"/>
<circle cx="477.50" cy="131.20" r="1.8" fill="#5DA232"/>
<polyline points="321.80,131.20 321.80,62.00 322.50,70.00 326.30,88.00 330.60,108.50 339.50,124.40 353.00,131.20 384.30,131.20 415.40,131.20 415.60,64.00 419.80,75.80 424.10,80.50 433.20,84.80 446.30,92.20 477.50,104.50" fill="none" stroke="#C6C6CA" stroke-width="1.3" stroke-linejoin="round"/>
<circle cx="321.80" cy="131.20" r="1.8" fill="#C6C6CA"/>
<circle cx="321.80" cy="62.00" r="1.8" fill="#C6C6CA"/>
<circle cx="322.50" cy="70.00" r="1.8" fill="#C6C6CA"/>
<circle cx="326.30" cy="88.00" r="1.8" fill="#C6C6CA"/>
<circle cx="330.60" cy="108.50" r="1.8" fill="#C6C6CA"/>
<circle cx="339.50" cy="124.40" r="1.8" fill="#C6C6CA"/>
<circle cx="353.00" cy="131.20" r="1.8" fill="#C6C6CA"/>
<circle cx="384.30" cy="131.20" r="1.8" fill="#C6C6CA"/>
<circle cx="415.40" cy="131.20" r="1.8" fill="#C6C6CA"/>
<circle cx="415.60" cy="64.00" r="1.8" fill="#C6C6CA"/>
<circle cx="419.80" cy="75.80" r="1.8" fill="#C6C6CA"/>
<circle cx="424.10" cy="80.50" r="1.8" fill="#C6C6CA"/>
<circle cx="433.20" cy="84.80" r="1.8" fill="#C6C6CA"/>
<circle cx="446.30" cy="92.20" r="1.8" fill="#C6C6CA"/>
<circle cx="477.50" cy="104.50" r="1.8" fill="#C6C6CA"/>
<line x1="339.50" y1="113.00" x2="339.50" y2="105.80" stroke="#EDB06A" stroke-width="0.9" />
<line x1="337.60" y1="105.80" x2="341.40" y2="105.80" stroke="#EDB06A" stroke-width="1.0" />
<line x1="353.00" y1="114.10" x2="353.00" y2="106.10" stroke="#EDB06A" stroke-width="0.9" />
<line x1="351.10" y1="106.10" x2="354.90" y2="106.10" stroke="#EDB06A" stroke-width="1.0" />
<line x1="384.30" y1="116.90" x2="384.30" y2="110.60" stroke="#EDB06A" stroke-width="0.9" />
<line x1="382.40" y1="110.60" x2="386.20" y2="110.60" stroke="#EDB06A" stroke-width="1.0" />
<line x1="419.80" y1="95.00" x2="419.80" y2="85.50" stroke="#EDB06A" stroke-width="0.9" />
<line x1="417.90" y1="85.50" x2="421.70" y2="85.50" stroke="#EDB06A" stroke-width="1.0" />
<line x1="424.10" y1="100.60" x2="424.10" y2="92.00" stroke="#EDB06A" stroke-width="0.9" />
<line x1="422.20" y1="92.00" x2="426.00" y2="92.00" stroke="#EDB06A" stroke-width="1.0" />
<polyline points="321.80,131.20 321.80,90.00 322.50,100.00 326.30,109.00 330.60,110.00 339.50,113.00 353.00,114.10 384.30,116.90 415.40,116.10 415.60,85.00 419.80,95.00 424.10,100.60 433.20,124.90 446.30,112.20 477.50,131.20" fill="none" stroke="#E2861C" stroke-width="1.3" stroke-linejoin="round"/>
<circle cx="321.80" cy="131.20" r="1.8" fill="#E2861C"/>
<circle cx="321.80" cy="90.00" r="1.8" fill="#E2861C"/>
<circle cx="322.50" cy="100.00" r="1.8" fill="#E2861C"/>
<circle cx="326.30" cy="109.00" r="1.8" fill="#E2861C"/>
<circle cx="330.60" cy="110.00" r="1.8" fill="#E2861C"/>
<circle cx="339.50" cy="113.00" r="1.8" fill="#E2861C"/>
<circle cx="353.00" cy="114.10" r="1.8" fill="#E2861C"/>
<circle cx="384.30" cy="116.90" r="1.8" fill="#E2861C"/>
<circle cx="415.40" cy="116.10" r="1.8" fill="#E2861C"/>
<circle cx="415.60" cy="85.00" r="1.8" fill="#E2861C"/>
<circle cx="419.80" cy="95.00" r="1.8" fill="#E2861C"/>
<circle cx="424.10" cy="100.60" r="1.8" fill="#E2861C"/>
<circle cx="433.20" cy="124.90" r="1.8" fill="#E2861C"/>
<circle cx="446.30" cy="112.20" r="1.8" fill="#E2861C"/>
<circle cx="477.50" cy="131.20" r="1.8" fill="#E2861C"/>
<line x1="433.20" y1="105.20" x2="433.20" y2="96.90" stroke="#F3D264" stroke-width="0.9" />
<line x1="431.30" y1="96.90" x2="435.10" y2="96.90" stroke="#F3D264" stroke-width="1.0" />
<line x1="446.30" y1="105.30" x2="446.30" y2="98.00" stroke="#F3D264" stroke-width="0.9" />
<line x1="444.40" y1="98.00" x2="448.20" y2="98.00" stroke="#F3D264" stroke-width="1.0" />
<line x1="477.50" y1="109.00" x2="477.50" y2="104.60" stroke="#F3D264" stroke-width="0.9" />
<line x1="475.60" y1="104.60" x2="479.40" y2="104.60" stroke="#F3D264" stroke-width="1.0" />
<polyline points="321.80,131.20 321.80,85.00 322.50,95.00 326.30,106.90 330.60,108.50 339.50,110.50 353.00,112.20 384.30,131.20 415.40,126.80 415.60,80.00 419.80,94.00 424.10,101.20 433.20,105.20 446.30,105.30 477.50,109.00 508.50,102.10" fill="none" stroke="#EFBD17" stroke-width="1.3" stroke-linejoin="round"/>
<circle cx="321.80" cy="131.20" r="1.8" fill="#EFBD17"/>
<circle cx="321.80" cy="85.00" r="1.8" fill="#EFBD17"/>
<circle cx="322.50" cy="95.00" r="1.8" fill="#EFBD17"/>
<circle cx="326.30" cy="106.90" r="1.8" fill="#EFBD17"/>
<circle cx="330.60" cy="108.50" r="1.8" fill="#EFBD17"/>
<circle cx="339.50" cy="110.50" r="1.8" fill="#EFBD17"/>
<circle cx="353.00" cy="112.20" r="1.8" fill="#EFBD17"/>
<circle cx="384.30" cy="131.20" r="1.8" fill="#EFBD17"/>
<circle cx="415.40" cy="126.80" r="1.8" fill="#EFBD17"/>
<circle cx="415.60" cy="80.00" r="1.8" fill="#EFBD17"/>
<circle cx="419.80" cy="94.00" r="1.8" fill="#EFBD17"/>
<circle cx="424.10" cy="101.20" r="1.8" fill="#EFBD17"/>
<circle cx="433.20" cy="105.20" r="1.8" fill="#EFBD17"/>
<circle cx="446.30" cy="105.30" r="1.8" fill="#EFBD17"/>
<circle cx="477.50" cy="109.00" r="1.8" fill="#EFBD17"/>
<circle cx="508.50" cy="102.10" r="1.8" fill="#EFBD17"/>
<line x1="326.30" y1="77.70" x2="326.30" y2="68.90" stroke="#9A80AC" stroke-width="0.9" />
<line x1="324.40" y1="68.90" x2="328.20" y2="68.90" stroke="#9A80AC" stroke-width="1.0" />
<line x1="330.60" y1="80.10" x2="330.60" y2="70.70" stroke="#9A80AC" stroke-width="0.9" />
<line x1="328.70" y1="70.70" x2="332.50" y2="70.70" stroke="#9A80AC" stroke-width="1.0" />
<line x1="339.50" y1="82.40" x2="339.50" y2="73.40" stroke="#9A80AC" stroke-width="0.9" />
<line x1="337.60" y1="73.40" x2="341.40" y2="73.40" stroke="#9A80AC" stroke-width="1.0" />
<line x1="353.00" y1="86.40" x2="353.00" y2="78.50" stroke="#9A80AC" stroke-width="0.9" />
<line x1="351.10" y1="78.50" x2="354.90" y2="78.50" stroke="#9A80AC" stroke-width="1.0" />
<line x1="384.30" y1="92.10" x2="384.30" y2="84.50" stroke="#9A80AC" stroke-width="0.9" />
<line x1="382.40" y1="84.50" x2="386.20" y2="84.50" stroke="#9A80AC" stroke-width="1.0" />
<line x1="419.80" y1="73.10" x2="419.80" y2="66.70" stroke="#9A80AC" stroke-width="0.9" />
<line x1="417.90" y1="66.70" x2="421.70" y2="66.70" stroke="#9A80AC" stroke-width="1.0" />
<line x1="424.10" y1="74.20" x2="424.10" y2="68.30" stroke="#9A80AC" stroke-width="0.9" />
<line x1="422.20" y1="68.30" x2="426.00" y2="68.30" stroke="#9A80AC" stroke-width="1.0" />
<line x1="433.20" y1="75.80" x2="433.20" y2="71.00" stroke="#9A80AC" stroke-width="0.9" />
<line x1="431.30" y1="71.00" x2="435.10" y2="71.00" stroke="#9A80AC" stroke-width="1.0" />
<line x1="446.30" y1="80.20" x2="446.30" y2="72.50" stroke="#9A80AC" stroke-width="0.9" />
<line x1="444.40" y1="72.50" x2="448.20" y2="72.50" stroke="#9A80AC" stroke-width="1.0" />
<line x1="477.50" y1="84.60" x2="477.50" y2="76.60" stroke="#9A80AC" stroke-width="0.9" />
<line x1="475.60" y1="76.60" x2="479.40" y2="76.60" stroke="#9A80AC" stroke-width="1.0" />
<line x1="508.50" y1="83.00" x2="508.50" y2="73.90" stroke="#9A80AC" stroke-width="0.9" />
<line x1="506.60" y1="73.90" x2="510.40" y2="73.90" stroke="#9A80AC" stroke-width="1.0" />
<polyline points="321.80,131.20 321.80,63.80 322.60,70.00 326.30,77.70 330.60,80.10 339.50,82.40 353.00,86.40 384.30,92.10 415.40,95.20 415.60,63.00 419.80,73.10 424.10,74.20 433.20,75.80 446.30,80.20 477.50,84.60 508.50,83.00" fill="none" stroke="#4A1966" stroke-width="1.3" stroke-linejoin="round"/>
<circle cx="321.80" cy="131.20" r="1.8" fill="#4A1966"/>
<circle cx="321.80" cy="63.80" r="1.8" fill="#4A1966"/>
<circle cx="322.60" cy="70.00" r="1.8" fill="#4A1966"/>
<circle cx="326.30" cy="77.70" r="1.8" fill="#4A1966"/>
<circle cx="330.60" cy="80.10" r="1.8" fill="#4A1966"/>
<circle cx="339.50" cy="82.40" r="1.8" fill="#4A1966"/>
<circle cx="353.00" cy="86.40" r="1.8" fill="#4A1966"/>
<circle cx="384.30" cy="92.10" r="1.8" fill="#4A1966"/>
<circle cx="415.40" cy="95.20" r="1.8" fill="#4A1966"/>
<circle cx="415.60" cy="63.00" r="1.8" fill="#4A1966"/>
<circle cx="419.80" cy="73.10" r="1.8" fill="#4A1966"/>
<circle cx="424.10" cy="74.20" r="1.8" fill="#4A1966"/>
<circle cx="433.20" cy="75.80" r="1.8" fill="#4A1966"/>
<circle cx="446.30" cy="80.20" r="1.8" fill="#4A1966"/>
<circle cx="477.50" cy="84.60" r="1.8" fill="#4A1966"/>
<circle cx="508.50" cy="83.00" r="1.8" fill="#4A1966"/>
<line x1="321.80" y1="55.60" x2="321.80" y2="52.40" stroke="#CE6A7E" stroke-width="0.9" />
<line x1="319.90" y1="52.40" x2="323.70" y2="52.40" stroke="#CE6A7E" stroke-width="1.0" />
<line x1="415.60" y1="49.90" x2="415.60" y2="46.70" stroke="#CE6A7E" stroke-width="0.9" />
<line x1="413.70" y1="46.70" x2="417.50" y2="46.70" stroke="#CE6A7E" stroke-width="1.0" />
<line x1="508.50" y1="114.10" x2="508.50" y2="109.00" stroke="#CE6A7E" stroke-width="0.9" />
<line x1="506.60" y1="109.00" x2="510.40" y2="109.00" stroke="#CE6A7E" stroke-width="1.0" />
<polyline points="321.80,131.20 321.80,55.60 322.30,62.70 323.00,68.30 323.60,73.40 326.30,94.80 330.60,109.00 339.50,110.40 353.00,117.60 384.30,119.30 415.40,110.40 415.60,49.90 416.20,53.50 417.00,55.90 419.80,63.00 424.10,65.90 433.20,69.40 446.30,82.30 477.50,94.90 508.50,114.10" fill="none" stroke="#AC0E30" stroke-width="1.3" stroke-linejoin="round"/>
<circle cx="321.80" cy="131.20" r="1.8" fill="#AC0E30"/>
<circle cx="321.80" cy="55.60" r="1.8" fill="#AC0E30"/>
<circle cx="322.30" cy="62.70" r="1.8" fill="#AC0E30"/>
<circle cx="323.00" cy="68.30" r="1.8" fill="#AC0E30"/>
<circle cx="323.60" cy="73.40" r="1.8" fill="#AC0E30"/>
<circle cx="326.30" cy="94.80" r="1.8" fill="#AC0E30"/>
<circle cx="330.60" cy="109.00" r="1.8" fill="#AC0E30"/>
<circle cx="339.50" cy="110.40" r="1.8" fill="#AC0E30"/>
<circle cx="353.00" cy="117.60" r="1.8" fill="#AC0E30"/>
<circle cx="384.30" cy="119.30" r="1.8" fill="#AC0E30"/>
<circle cx="415.40" cy="110.40" r="1.8" fill="#AC0E30"/>
<circle cx="415.60" cy="49.90" r="1.8" fill="#AC0E30"/>
<circle cx="416.20" cy="53.50" r="1.8" fill="#AC0E30"/>
<circle cx="417.00" cy="55.90" r="1.8" fill="#AC0E30"/>
<circle cx="419.80" cy="63.00" r="1.8" fill="#AC0E30"/>
<circle cx="424.10" cy="65.90" r="1.8" fill="#AC0E30"/>
<circle cx="433.20" cy="69.40" r="1.8" fill="#AC0E30"/>
<circle cx="446.30" cy="82.30" r="1.8" fill="#AC0E30"/>
<circle cx="477.50" cy="94.90" r="1.8" fill="#AC0E30"/>
<circle cx="508.50" cy="114.10" r="1.8" fill="#AC0E30"/>
<line x1="59.40" y1="314.30" x2="59.40" y2="307.00" stroke="#C3D2A2" stroke-width="0.9" />
<line x1="57.50" y1="307.00" x2="61.30" y2="307.00" stroke="#C3D2A2" stroke-width="1.0" />
<line x1="60.50" y1="323.00" x2="60.50" y2="313.20" stroke="#C3D2A2" stroke-width="0.9" />
<line x1="58.60" y1="313.20" x2="62.40" y2="313.20" stroke="#C3D2A2" stroke-width="1.0" />
<line x1="64.10" y1="340.00" x2="64.10" y2="331.60" stroke="#C3D2A2" stroke-width="0.9" />
<line x1="62.20" y1="331.60" x2="66.00" y2="331.60" stroke="#C3D2A2" stroke-width="1.0" />
<line x1="68.20" y1="353.00" x2="68.20" y2="344.50" stroke="#C3D2A2" stroke-width="0.9" />
<line x1="66.30" y1="344.50" x2="70.10" y2="344.50" stroke="#C3D2A2" stroke-width="1.0" />
<line x1="77.30" y1="361.80" x2="77.30" y2="355.20" stroke="#C3D2A2" stroke-width="0.9" />
<line x1="75.40" y1="355.20" x2="79.20" y2="355.20" stroke="#C3D2A2" stroke-width="1.0" />
<line x1="90.60" y1="310.50" x2="90.60" y2="304.10" stroke="#C3D2A2" stroke-width="0.9" />
<line x1="88.70" y1="304.10" x2="92.50" y2="304.10" stroke="#C3D2A2" stroke-width="1.0" />
<line x1="91.50" y1="313.90" x2="91.50" y2="306.40" stroke="#C3D2A2" stroke-width="0.9" />
<line x1="89.60" y1="306.40" x2="93.40" y2="306.40" stroke="#C3D2A2" stroke-width="1.0" />
<line x1="95.00" y1="323.00" x2="95.00" y2="314.50" stroke="#C3D2A2" stroke-width="0.9" />
<line x1="93.10" y1="314.50" x2="96.90" y2="314.50" stroke="#C3D2A2" stroke-width="1.0" />
<line x1="99.50" y1="326.40" x2="99.50" y2="318.00" stroke="#C3D2A2" stroke-width="0.9" />
<line x1="97.60" y1="318.00" x2="101.40" y2="318.00" stroke="#C3D2A2" stroke-width="1.0" />
<line x1="108.40" y1="335.90" x2="108.40" y2="327.50" stroke="#C3D2A2" stroke-width="0.9" />
<line x1="106.50" y1="327.50" x2="110.30" y2="327.50" stroke="#C3D2A2" stroke-width="1.0" />
<line x1="121.80" y1="314.40" x2="121.80" y2="306.40" stroke="#C3D2A2" stroke-width="0.9" />
<line x1="119.90" y1="306.40" x2="123.70" y2="306.40" stroke="#C3D2A2" stroke-width="1.0" />
<line x1="152.80" y1="315.30" x2="152.80" y2="306.40" stroke="#C3D2A2" stroke-width="0.9" />
<line x1="150.90" y1="306.40" x2="154.70" y2="306.40" stroke="#C3D2A2" stroke-width="1.0" />
<line x1="184.00" y1="306.10" x2="184.00" y2="299.40" stroke="#C3D2A2" stroke-width="0.9" />
<line x1="182.10" y1="299.40" x2="185.90" y2="299.40" stroke="#C3D2A2" stroke-width="1.0" />
<line x1="59.40" y1="376.40" x2="59.40" y2="314.30" stroke="#BDCC9A" stroke-width="1.0" stroke-linecap="round"/>
<line x1="59.40" y1="314.30" x2="60.50" y2="323.00" stroke="#A4B775" stroke-width="1.15" stroke-linecap="round"/>
<line x1="60.50" y1="323.00" x2="64.10" y2="340.00" stroke="#A4B775" stroke-width="1.15" stroke-linecap="round"/>
<line x1="64.10" y1="340.00" x2="68.20" y2="353.00" stroke="#A4B775" stroke-width="1.15" stroke-linecap="round"/>
<line x1="68.20" y1="353.00" x2="77.30" y2="361.80" stroke="#A4B775" stroke-width="1.15" stroke-linecap="round"/>
<line x1="77.30" y1="361.80" x2="90.50" y2="371.10" stroke="#A4B775" stroke-width="1.15" stroke-linecap="round"/>
<line x1="90.50" y1="371.10" x2="90.60" y2="310.50" stroke="#BDCC9A" stroke-width="1.0" stroke-linecap="round"/>
<line x1="90.60" y1="310.50" x2="91.50" y2="313.90" stroke="#A4B775" stroke-width="1.15" stroke-linecap="round"/>
<line x1="91.50" y1="313.90" x2="95.00" y2="323.00" stroke="#A4B775" stroke-width="1.15" stroke-linecap="round"/>
<line x1="95.00" y1="323.00" x2="99.50" y2="326.40" stroke="#A4B775" stroke-width="1.15" stroke-linecap="round"/>
<line x1="99.50" y1="326.40" x2="108.40" y2="335.90" stroke="#A4B775" stroke-width="1.15" stroke-linecap="round"/>
<line x1="108.40" y1="335.90" x2="121.70" y2="376.20" stroke="#A4B775" stroke-width="1.15" stroke-linecap="round"/>
<line x1="121.70" y1="376.20" x2="121.80" y2="314.40" stroke="#BDCC9A" stroke-width="1.0" stroke-linecap="round"/>
<line x1="121.80" y1="314.40" x2="152.70" y2="376.10" stroke="#A4B775" stroke-width="1.15" stroke-linecap="round"/>
<line x1="152.70" y1="376.10" x2="152.80" y2="315.30" stroke="#BDCC9A" stroke-width="1.0" stroke-linecap="round"/>
<line x1="152.80" y1="315.30" x2="183.90" y2="367.80" stroke="#A4B775" stroke-width="1.15" stroke-linecap="round"/>
<line x1="183.90" y1="367.80" x2="184.00" y2="306.10" stroke="#BDCC9A" stroke-width="1.0" stroke-linecap="round"/>
<line x1="184.00" y1="306.10" x2="215.40" y2="358.90" stroke="#A4B775" stroke-width="1.15" stroke-linecap="round"/>
<line x1="215.40" y1="358.90" x2="215.40" y2="299.10" stroke="#BDCC9A" stroke-width="1.0" stroke-linecap="round"/>
<circle cx="59.40" cy="376.40" r="1.8" fill="#A4B775"/>
<circle cx="59.40" cy="314.30" r="1.8" fill="#A4B775"/>
<circle cx="60.50" cy="323.00" r="1.8" fill="#A4B775"/>
<circle cx="64.10" cy="340.00" r="1.8" fill="#A4B775"/>
<circle cx="68.20" cy="353.00" r="1.8" fill="#A4B775"/>
<circle cx="77.30" cy="361.80" r="1.8" fill="#A4B775"/>
<circle cx="90.50" cy="371.10" r="1.8" fill="#A4B775"/>
<circle cx="90.60" cy="310.50" r="1.8" fill="#A4B775"/>
<circle cx="91.50" cy="313.90" r="1.8" fill="#A4B775"/>
<circle cx="95.00" cy="323.00" r="1.8" fill="#A4B775"/>
<circle cx="99.50" cy="326.40" r="1.8" fill="#A4B775"/>
<circle cx="108.40" cy="335.90" r="1.8" fill="#A4B775"/>
<circle cx="121.70" cy="376.20" r="1.8" fill="#A4B775"/>
<circle cx="121.80" cy="314.40" r="1.8" fill="#A4B775"/>
<circle cx="152.70" cy="376.10" r="1.8" fill="#A4B775"/>
<circle cx="152.80" cy="315.30" r="1.8" fill="#A4B775"/>
<circle cx="183.90" cy="367.80" r="1.8" fill="#A4B775"/>
<circle cx="184.00" cy="306.10" r="1.8" fill="#A4B775"/>
<circle cx="215.40" cy="358.90" r="1.8" fill="#A4B775"/>
<circle cx="215.40" cy="299.10" r="1.8" fill="#A4B775"/>
<line x1="321.80" y1="313.00" x2="321.80" y2="306.60" stroke="#C3D2A2" stroke-width="0.9" />
<line x1="319.90" y1="306.60" x2="323.70" y2="306.60" stroke="#C3D2A2" stroke-width="1.0" />
<line x1="323.00" y1="316.40" x2="323.00" y2="307.30" stroke="#C3D2A2" stroke-width="0.9" />
<line x1="321.10" y1="307.30" x2="324.90" y2="307.30" stroke="#C3D2A2" stroke-width="1.0" />
<line x1="326.30" y1="338.00" x2="326.30" y2="331.80" stroke="#C3D2A2" stroke-width="0.9" />
<line x1="324.40" y1="331.80" x2="328.20" y2="331.80" stroke="#C3D2A2" stroke-width="1.0" />
<line x1="330.60" y1="344.30" x2="330.60" y2="340.90" stroke="#C3D2A2" stroke-width="0.9" />
<line x1="328.70" y1="340.90" x2="332.50" y2="340.90" stroke="#C3D2A2" stroke-width="1.0" />
<line x1="339.30" y1="343.00" x2="339.30" y2="338.60" stroke="#C3D2A2" stroke-width="0.9" />
<line x1="337.40" y1="338.60" x2="341.20" y2="338.60" stroke="#C3D2A2" stroke-width="1.0" />
<line x1="352.90" y1="346.40" x2="352.90" y2="340.90" stroke="#C3D2A2" stroke-width="0.9" />
<line x1="351.00" y1="340.90" x2="354.80" y2="340.90" stroke="#C3D2A2" stroke-width="1.0" />
<line x1="353.00" y1="309.50" x2="353.00" y2="303.90" stroke="#C3D2A2" stroke-width="0.9" />
<line x1="351.10" y1="303.90" x2="354.90" y2="303.90" stroke="#C3D2A2" stroke-width="1.0" />
<line x1="354.00" y1="314.10" x2="354.00" y2="306.80" stroke="#C3D2A2" stroke-width="0.9" />
<line x1="352.10" y1="306.80" x2="355.90" y2="306.80" stroke="#C3D2A2" stroke-width="1.0" />
<line x1="357.50" y1="322.00" x2="357.50" y2="314.50" stroke="#C3D2A2" stroke-width="0.9" />
<line x1="355.60" y1="314.50" x2="359.40" y2="314.50" stroke="#C3D2A2" stroke-width="1.0" />
<line x1="362.00" y1="326.60" x2="362.00" y2="319.30" stroke="#C3D2A2" stroke-width="0.9" />
<line x1="360.10" y1="319.30" x2="363.90" y2="319.30" stroke="#C3D2A2" stroke-width="1.0" />
<line x1="370.60" y1="331.80" x2="370.60" y2="325.00" stroke="#C3D2A2" stroke-width="0.9" />
<line x1="368.70" y1="325.00" x2="372.50" y2="325.00" stroke="#C3D2A2" stroke-width="1.0" />
<line x1="384.20" y1="344.60" x2="384.20" y2="337.90" stroke="#C3D2A2" stroke-width="0.9" />
<line x1="382.30" y1="337.90" x2="386.10" y2="337.90" stroke="#C3D2A2" stroke-width="1.0" />
<line x1="384.30" y1="312.30" x2="384.30" y2="304.20" stroke="#C3D2A2" stroke-width="0.9" />
<line x1="382.40" y1="304.20" x2="386.20" y2="304.20" stroke="#C3D2A2" stroke-width="1.0" />
<line x1="415.70" y1="311.80" x2="415.70" y2="304.80" stroke="#C3D2A2" stroke-width="0.9" />
<line x1="413.80" y1="304.80" x2="417.60" y2="304.80" stroke="#C3D2A2" stroke-width="1.0" />
<line x1="446.50" y1="305.60" x2="446.50" y2="299.40" stroke="#C3D2A2" stroke-width="0.9" />
<line x1="444.60" y1="299.40" x2="448.40" y2="299.40" stroke="#C3D2A2" stroke-width="1.0" />
<line x1="321.80" y1="357.70" x2="321.80" y2="313.00" stroke="#BDCC9A" stroke-width="1.0" stroke-linecap="round"/>
<line x1="321.80" y1="313.00" x2="323.00" y2="316.40" stroke="#A4B775" stroke-width="1.15" stroke-linecap="round"/>
<line x1="323.00" y1="316.40" x2="326.30" y2="338.00" stroke="#A4B775" stroke-width="1.15" stroke-linecap="round"/>
<line x1="326.30" y1="338.00" x2="330.60" y2="344.30" stroke="#A4B775" stroke-width="1.15" stroke-linecap="round"/>
<line x1="330.60" y1="344.30" x2="339.30" y2="343.00" stroke="#A4B775" stroke-width="1.15" stroke-linecap="round"/>
<line x1="339.30" y1="343.00" x2="352.90" y2="346.40" stroke="#A4B775" stroke-width="1.15" stroke-linecap="round"/>
<line x1="352.90" y1="346.40" x2="353.00" y2="309.50" stroke="#BDCC9A" stroke-width="1.0" stroke-linecap="round"/>
<line x1="353.00" y1="309.50" x2="354.00" y2="314.10" stroke="#A4B775" stroke-width="1.15" stroke-linecap="round"/>
<line x1="354.00" y1="314.10" x2="357.50" y2="322.00" stroke="#A4B775" stroke-width="1.15" stroke-linecap="round"/>
<line x1="357.50" y1="322.00" x2="362.00" y2="326.60" stroke="#A4B775" stroke-width="1.15" stroke-linecap="round"/>
<line x1="362.00" y1="326.60" x2="370.60" y2="331.80" stroke="#A4B775" stroke-width="1.15" stroke-linecap="round"/>
<line x1="370.60" y1="331.80" x2="384.20" y2="344.60" stroke="#A4B775" stroke-width="1.15" stroke-linecap="round"/>
<line x1="384.20" y1="344.60" x2="384.30" y2="312.30" stroke="#BDCC9A" stroke-width="1.0" stroke-linecap="round"/>
<line x1="384.30" y1="312.30" x2="415.60" y2="336.30" stroke="#A4B775" stroke-width="1.15" stroke-linecap="round"/>
<line x1="415.60" y1="336.30" x2="415.70" y2="311.80" stroke="#BDCC9A" stroke-width="1.0" stroke-linecap="round"/>
<line x1="415.70" y1="311.80" x2="446.40" y2="343.80" stroke="#A4B775" stroke-width="1.15" stroke-linecap="round"/>
<line x1="446.40" y1="343.80" x2="446.50" y2="305.60" stroke="#BDCC9A" stroke-width="1.0" stroke-linecap="round"/>
<line x1="446.50" y1="305.60" x2="477.80" y2="357.50" stroke="#A4B775" stroke-width="1.15" stroke-linecap="round"/>
<line x1="477.80" y1="357.50" x2="477.90" y2="299.70" stroke="#BDCC9A" stroke-width="1.0" stroke-linecap="round"/>
<circle cx="321.80" cy="357.70" r="1.8" fill="#A4B775"/>
<circle cx="321.80" cy="313.00" r="1.8" fill="#A4B775"/>
<circle cx="323.00" cy="316.40" r="1.8" fill="#A4B775"/>
<circle cx="326.30" cy="338.00" r="1.8" fill="#A4B775"/>
<circle cx="330.60" cy="344.30" r="1.8" fill="#A4B775"/>
<circle cx="339.30" cy="343.00" r="1.8" fill="#A4B775"/>
<circle cx="352.90" cy="346.40" r="1.8" fill="#A4B775"/>
<circle cx="353.00" cy="309.50" r="1.8" fill="#A4B775"/>
<circle cx="354.00" cy="314.10" r="1.8" fill="#A4B775"/>
<circle cx="357.50" cy="322.00" r="1.8" fill="#A4B775"/>
<circle cx="362.00" cy="326.60" r="1.8" fill="#A4B775"/>
<circle cx="370.60" cy="331.80" r="1.8" fill="#A4B775"/>
<circle cx="384.20" cy="344.60" r="1.8" fill="#A4B775"/>
<circle cx="384.30" cy="312.30" r="1.8" fill="#A4B775"/>
<circle cx="415.60" cy="336.30" r="1.8" fill="#A4B775"/>
<circle cx="415.70" cy="311.80" r="1.8" fill="#A4B775"/>
<circle cx="446.40" cy="343.80" r="1.8" fill="#A4B775"/>
<circle cx="446.50" cy="305.60" r="1.8" fill="#A4B775"/>
<circle cx="477.80" cy="357.50" r="1.8" fill="#A4B775"/>
<circle cx="477.90" cy="299.70" r="1.8" fill="#A4B775"/>
<text x="144.30" y="210.90" font-size="7.2" text-anchor="start" fill="#222" stroke="#222" stroke-width="0.25" font-weight="normal" >Cohort</text>
<line x1="171.10" y1="202.80" x2="180.60" y2="202.80" stroke="#E2861C" stroke-width="1.2" />
<circle cx="176.00" cy="202.80" r="1.6" fill="#E2861C"/>
<text x="183.40" y="205.30" font-size="7.25" text-anchor="start" fill="#222" stroke="#222" stroke-width="0.25" font-weight="normal" >15 μg/kg Q3W</text>
<line x1="171.10" y1="214.40" x2="180.60" y2="214.40" stroke="#EFBD17" stroke-width="1.2" />
<circle cx="176.00" cy="214.40" r="1.6" fill="#EFBD17"/>
<text x="183.40" y="216.90" font-size="7.25" text-anchor="start" fill="#222" stroke="#222" stroke-width="0.25" font-weight="normal" >30 μg/kg Q3W</text>
<line x1="243.20" y1="202.80" x2="252.70" y2="202.80" stroke="#5DA232" stroke-width="1.2" />
<circle cx="247.80" cy="202.80" r="1.6" fill="#5DA232"/>
<text x="255.50" y="205.30" font-size="7.25" text-anchor="start" fill="#222" stroke="#222" stroke-width="0.25" font-weight="normal" >60 μg/kg Q3W</text>
<line x1="243.20" y1="214.40" x2="252.70" y2="214.40" stroke="#C6C6CA" stroke-width="1.2" />
<circle cx="247.80" cy="214.40" r="1.6" fill="#C6C6CA"/>
<text x="255.50" y="216.90" font-size="7.25" text-anchor="start" fill="#222" stroke="#222" stroke-width="0.25" font-weight="normal" >90 μg/kg Q3W</text>
<line x1="311.90" y1="202.80" x2="320.90" y2="202.80" stroke="#4A1966" stroke-width="1.2" />
<circle cx="316.40" cy="202.80" r="1.6" fill="#4A1966"/>
<text x="323.80" y="205.30" font-size="7.25" text-anchor="start" fill="#222" stroke="#222" stroke-width="0.25" font-weight="normal" >120 μg/kg Q3W</text>
<line x1="311.90" y1="214.40" x2="320.90" y2="214.40" stroke="#AC0E30" stroke-width="1.2" />
<circle cx="316.40" cy="214.40" r="1.6" fill="#AC0E30"/>
<text x="323.80" y="216.90" font-size="7.25" text-anchor="start" fill="#222" stroke="#222" stroke-width="0.25" font-weight="normal" >150 μg/kg Q3W</text>
<text x="217.20" y="431.80" font-size="7.2" text-anchor="start" fill="#222" stroke="#222" stroke-width="0.25" font-weight="normal" >Cohort</text>
<line x1="247.10" y1="429.20" x2="256.60" y2="429.20" stroke="#A4B775" stroke-width="1.2" />
<circle cx="251.80" cy="429.20" r="1.6" fill="#A4B775"/>
<text x="259.40" y="431.80" font-size="7.25" text-anchor="start" fill="#222" stroke="#222" stroke-width="0.25" font-weight="normal" >50 μg/kg QW</text>
<rect x="0" y="0" width="520" height="1.15" fill="#000"/>
<rect x="0" y="0" width="1.15" height="440" fill="#000"/>
<rect x="518.6" y="0" width="1.4" height="440" fill="#000"/>
<rect x="0" y="438.6" width="520" height="1.4" fill="#000"/>
</svg></div></body></html>
